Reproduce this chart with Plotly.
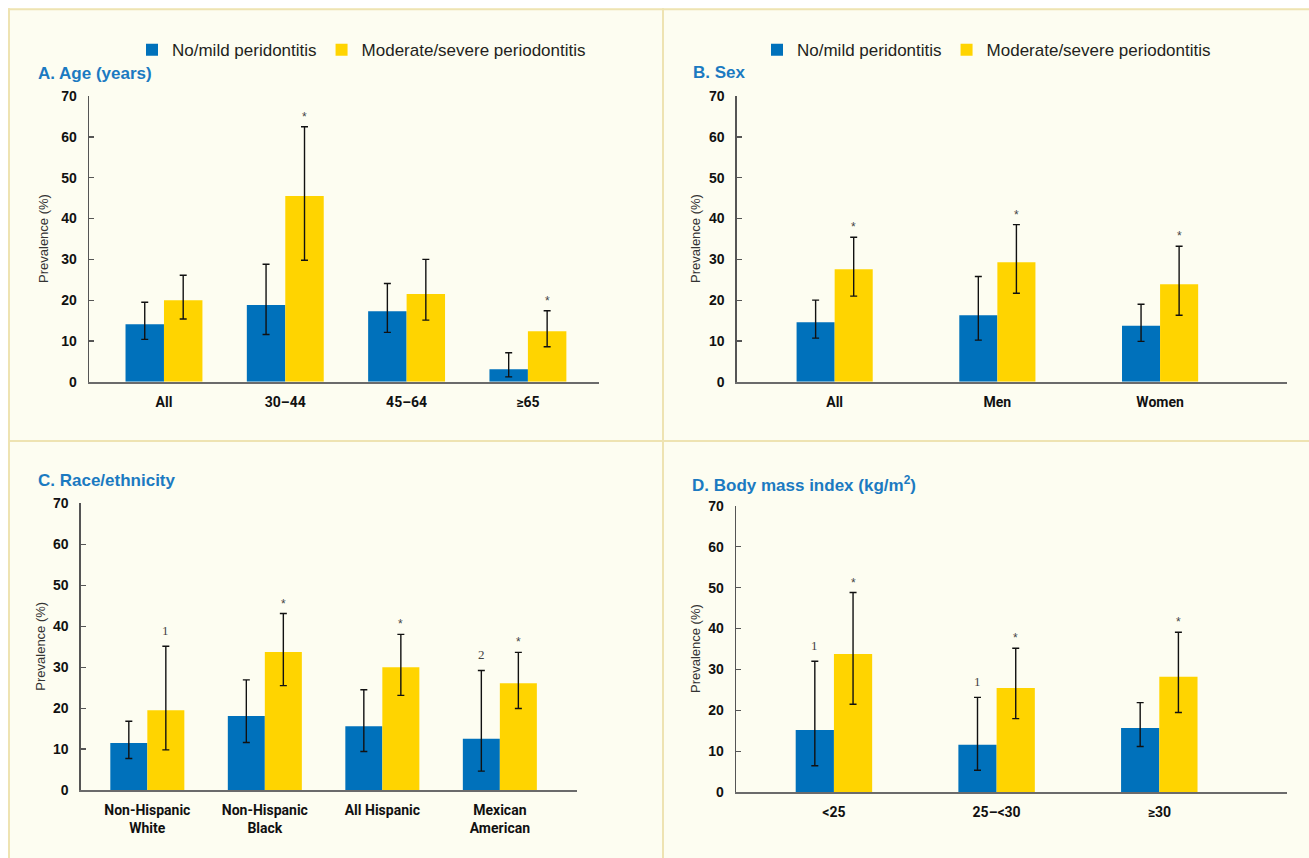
import plotly.graph_objects as go

# ---------------- data ----------------
age_cats = ["All", "30–44", "45–64", "≥65"]
age_none = [14.1, 18.8, 17.3, 3.1]
age_none_lo = [10.4, 11.6, 12.1, 1.2]
age_none_hi = [19.5, 28.8, 24.1, 7.1]
age_mod = [20.0, 45.5, 21.5, 12.4]
age_mod_lo = [15.4, 29.8, 15.1, 8.6]
age_mod_hi = [26.1, 62.5, 30.0, 17.4]
age_none_flag = ["", "", "", ""]
age_mod_flag = ["", "*", "", "*"]

sex_cats = ["All", "Men", "Women"]
sex_none = [14.6, 16.3, 13.7]
sex_none_lo = [10.7, 10.2, 9.9]
sex_none_hi = [20.0, 25.8, 19.0]
sex_mod = [27.6, 29.3, 23.9]
sex_mod_lo = [21.0, 21.7, 16.3]
sex_mod_hi = [35.4, 38.5, 33.2]
sex_none_flag = ["", "", ""]
sex_mod_flag = ["*", "*", "*"]

race_cats = ["Non-Hispanic<br>White", "Non-Hispanic<br>Black", "All Hispanic", "Mexican<br>American"]
race_none = [11.5, 18.1, 15.6, 12.5]
race_none_lo = [7.7, 11.6, 9.4, 4.6]
race_none_hi = [16.8, 26.9, 24.5, 29.2]
race_mod = [19.5, 33.7, 30.0, 26.1]
race_mod_lo = [9.8, 25.5, 23.1, 19.9]
race_mod_hi = [35.1, 43.1, 38.0, 33.6]
race_none_flag = ["", "", "", "2"]
race_mod_flag = ["1", "*", "*", "*"]

bmi_cats = ["<25", "25–<30", "≥30"]
bmi_none = [15.2, 11.6, 15.7]
bmi_none_lo = [6.5, 5.4, 11.2]
bmi_none_hi = [32.0, 23.2, 21.9]
bmi_mod = [33.8, 25.5, 28.2]
bmi_mod_lo = [21.5, 18.0, 19.5]
bmi_mod_hi = [48.8, 35.2, 39.1]
bmi_none_flag = ["1", "1", ""]
bmi_mod_flag = ["*", "*", "*"]

series_names = ["No/mild peridontitis", "Moderate/severe periodontitis"]
y_ticks = [0, 10, 20, 30, 40, 50, 60, 70]

# ---------------- styles ----------------
W = 1309
FIG_H = 866
Y_SCALE = 858 / 874
BLUE = "#0071BB"
YELLOW = "#FFD400"
TITLE_BLUE = "#1B7AC1"
BG = "#FDFDF1"
LINE = "#EEE3B2"
SANS = "Liberation Sans, Arial, sans-serif"
CAT = "Roboto, Liberation Sans, sans-serif"


def px_x(p):
    return p / W


def px_y(p):
    page = p / Y_SCALE - 8
    return 1 - page / FIG_H


panels = [
    dict(cats=age_cats, none=age_none, nlo=age_none_lo, nhi=age_none_hi,
         mod=age_mod, mlo=age_mod_lo, mhi=age_mod_hi, nf=age_none_flag, mf=age_mod_flag,
         dom_x=(89, 599), dom_y=(381.7, 96.0), xr=(-0.618, 3.586), bw=0.317,
         title="A. Age (years)", title_xy=(36, 73), ytitle_x=44, legend="legend"),
    dict(cats=sex_cats, none=sex_none, nlo=sex_none_lo, nhi=sex_none_hi,
         mod=sex_mod, mlo=sex_mod_lo, mhi=sex_mod_hi, nf=sex_none_flag, mf=sex_mod_flag,
         dom_x=(736.7, 1287), dom_y=(381.7, 96.0), xr=(-0.602, 2.780), bw=0.234,
         title="B. Sex", title_xy=(691, 72), ytitle_x=696, legend="legend2"),
    dict(cats=race_cats, none=race_none, nlo=race_none_lo, nhi=race_none_hi,
         mod=race_mod, mlo=race_mod_lo, mhi=race_mod_hi, nf=race_none_flag, mf=race_mod_flag,
         dom_x=(80.7, 576.7), dom_y=(790.0, 503.3), xr=(-0.567, 3.654), bw=0.315,
         title="C. Race/ethnicity", title_xy=(36, 480), ytitle_x=41, legend=None),
    dict(cats=bmi_cats, none=bmi_none, nlo=bmi_none_lo, nhi=bmi_none_hi,
         mod=bmi_mod, mlo=bmi_mod_lo, mhi=bmi_mod_hi, nf=bmi_none_flag, mf=bmi_mod_flag,
         dom_x=(736, 1287), dom_y=(792.3, 505.7), xr=(-0.602, 2.785), bw=0.235,
         title="D. Body mass index (kg/m<sup>2</sup>)", title_xy=(690, 484), ytitle_x=695, legend=None),
]

fig = go.Figure()
annotations = []
layout_axes = {}

for k, p in enumerate(panels):
    n = k + 1
    xa = "x" if n == 1 else f"x{n}"
    ya = "y" if n == 1 else f"y{n}"
    xpos = list(range(len(p["cats"])))
    bw = p["bw"]
    for s, (vals, lo, hi, color, flags, off) in enumerate([
        (p["none"], p["nlo"], p["nhi"], BLUE, p["nf"], -bw),
        (p["mod"], p["mlo"], p["mhi"], YELLOW, p["mf"], 0.0),
    ]):
        show = p["legend"] is not None
        fig.add_trace(go.Bar(
            x=xpos, y=vals, width=bw, offset=off,
            marker=dict(color=color, line=dict(width=0)),
            error_y=dict(type="data", symmetric=False,
                         array=[h - v for h, v in zip(hi, vals)],
                         arrayminus=[v - l for v, l in zip(vals, lo)],
                         color="#111111", thickness=1.4, width=3.5),
            name=series_names[s], showlegend=show,
            legend=p["legend"] if show else None,
            xaxis=xa, yaxis=ya, hoverinfo="skip",
        ))
        for i, f in enumerate(flags):
            if not f:
                continue
            is_star = f == "*"
            annotations.append(dict(
                xref=xa, yref=ya, x=i + off + bw / 2, y=hi[i], text=f,
                showarrow=False, yanchor="bottom", yshift=1 if is_star else 6,
                font=dict(family=SANS if is_star else "Liberation Serif, serif",
                          size=12 if is_star else 13, color="#444444"),
            ))
    x0, x1 = p["dom_x"]
    yb, yt = p["dom_y"]
    key = "" if n == 1 else str(n)
    layout_axes["xaxis" + key] = dict(
        domain=[px_x(x0), px_x(x1)], range=list(p["xr"]), anchor=ya,
        tickvals=xpos, ticktext=p["cats"], showline=True, linecolor="#6b6b6b",
        linewidth=2, ticks="", showgrid=False, zeroline=False,
        tickfont=dict(family=CAT, size=14, color="#111111", weight="bold"),
        ticklabelstandoff=6, fixedrange=True,
    )
    layout_axes["yaxis" + key] = dict(
        domain=[px_y(yb), px_y(yt)], range=[0, 70], anchor=xa,
        tickvals=y_ticks, showline=True, linecolor="#555555", linewidth=1.4,
        ticks="inside", ticklen=5, tickcolor="#555555", tickwidth=1.2,
        showgrid=False, zeroline=False, ticklabelstandoff=8,
        tickfont=dict(family=SANS, size=14, color="#111111", weight="bold"),
        fixedrange=True,
    )
    # panel title
    annotations.append(dict(
        xref="paper", yref="paper", x=px_x(p["title_xy"][0]), y=px_y(p["title_xy"][1]),
        xanchor="left", yanchor="middle", text="<b>" + p["title"] + "</b>", showarrow=False,
        font=dict(family=SANS, size=17, color=TITLE_BLUE),
    ))
    # y axis title
    annotations.append(dict(
        xref="paper", yref="paper", x=px_x(p["ytitle_x"]), y=px_y((yb + yt) / 2),
        xanchor="center", yanchor="middle", text="Prevalence (%)", textangle=-90,
        showarrow=False, font=dict(family=SANS, size=13, color="#333333"),
    ))

shapes = [
    dict(type="rect", xref="paper", yref="paper", x0=px_x(8), x1=1.0, y0=0.0, y1=px_y(8),
         fillcolor=BG, line=dict(width=0), layer="below"),
    dict(type="line", xref="paper", yref="paper", x0=px_x(8), x1=1.0, y0=px_y(9), y1=px_y(9),
         line=dict(color=LINE, width=2), layer="below"),
    dict(type="line", xref="paper", yref="paper", x0=px_x(9), x1=px_x(9), y0=0, y1=px_y(8),
         line=dict(color=LINE, width=2), layer="below"),
    dict(type="line", xref="paper", yref="paper", x0=px_x(663), x1=px_x(663), y0=0, y1=px_y(8),
         line=dict(color=LINE, width=2), layer="below"),
    dict(type="line", xref="paper", yref="paper", x0=px_x(8), x1=1.0, y0=px_y(441), y1=px_y(441),
         line=dict(color=LINE, width=2), layer="below"),
]

legend_common = dict(orientation="h", xanchor="left", yanchor="middle",
                     bgcolor="rgba(0,0,0,0)", borderwidth=0,
                     font=dict(family=SANS, size=17, color="#231F20"),
                     itemclick=False, itemdoubleclick=False)

fig.update_layout(
    width=W, height=FIG_H, margin=dict(l=0, r=0, t=0, b=0),
    paper_bgcolor="#FFFFFF", plot_bgcolor="rgba(0,0,0,0)",
    barmode="overlay", showlegend=True,
    legend=dict(x=px_x(132), y=px_y(50), **legend_common),
    legend2=dict(x=px_x(757), y=px_y(50), **legend_common),
    annotations=annotations, shapes=shapes,
    **layout_axes,
)

fig.write_html(
    "out.html",
    config={"displayModeBar": False, "staticPlot": True},
    post_script=(
        "document.body.style.margin='0';"
        "document.body.style.overflow='hidden';"
        "document.documentElement.style.overflow='hidden';"
    ),
)
